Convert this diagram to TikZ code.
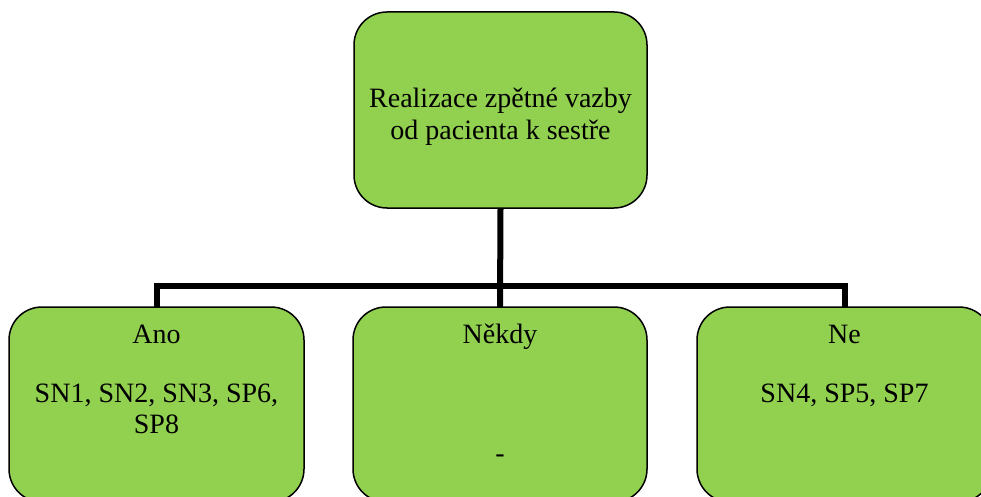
\documentclass[tikz,border=0pt]{standalone}
\usepackage{fontspec}
\setmainfont{Liberation Serif}
\definecolor{boxgreen}{HTML}{92D050}
\begin{document}
\begin{tikzpicture}[x=1pt, y=-1pt,
  box/.style={draw=black, line width=1.5pt, fill=boxgreen, rounded corners=33pt,
    inner sep=0pt, outer sep=0pt},
  lbl/.style={anchor=base, inner sep=0pt, font=\fontsize{28}{32}\selectfont},
  conn/.style={draw=black, line width=6pt, line join=miter}]
  \useasboundingbox (0,0) rectangle (981,497);
  \clip (0,0) rectangle (981,497);

  % boxes
  \node[box, minimum width=293pt, minimum height=196pt] (root) at (500.5,110) {};
  \node[box, minimum width=295pt, minimum height=195pt] (ano) at (156.5,404.5) {};
  \node[box, minimum width=294pt, minimum height=195pt] (nekdy) at (500,404.5) {};
  \node[box, minimum width=295pt, minimum height=195pt] (ne) at (844.5,404.5) {};

  % connectors
  \coordinate (bus) at (500,286);
  \draw[conn] (root.south) -- (nekdy.north);
  \draw[conn] (ano.north) |- (bus) -| (ne.north);

  % texts
  \node[lbl] (r1) at (500.5,107.5) {Realizace zpětné vazby};
  \node[lbl] (r2) at (500.5,139.5) {od pacienta k sestře};

  \node[lbl] (a1) at (156.5,343) {Ano};
  \node[lbl] (a2) at (156.5,402) {SN1, SN2, SN3, SP6,};
  \node[lbl] (a3) at (156.5,433.5) {SP8};

  \node[lbl] (n1) at (500,343) {Někdy};
  \node[lbl] (n2) at (500,462) {-};

  \node[lbl] (e1) at (844.5,343) {Ne};
  \node[lbl] (e2) at (844.5,402) {SN4, SP5, SP7};
\end{tikzpicture}
\end{document}
